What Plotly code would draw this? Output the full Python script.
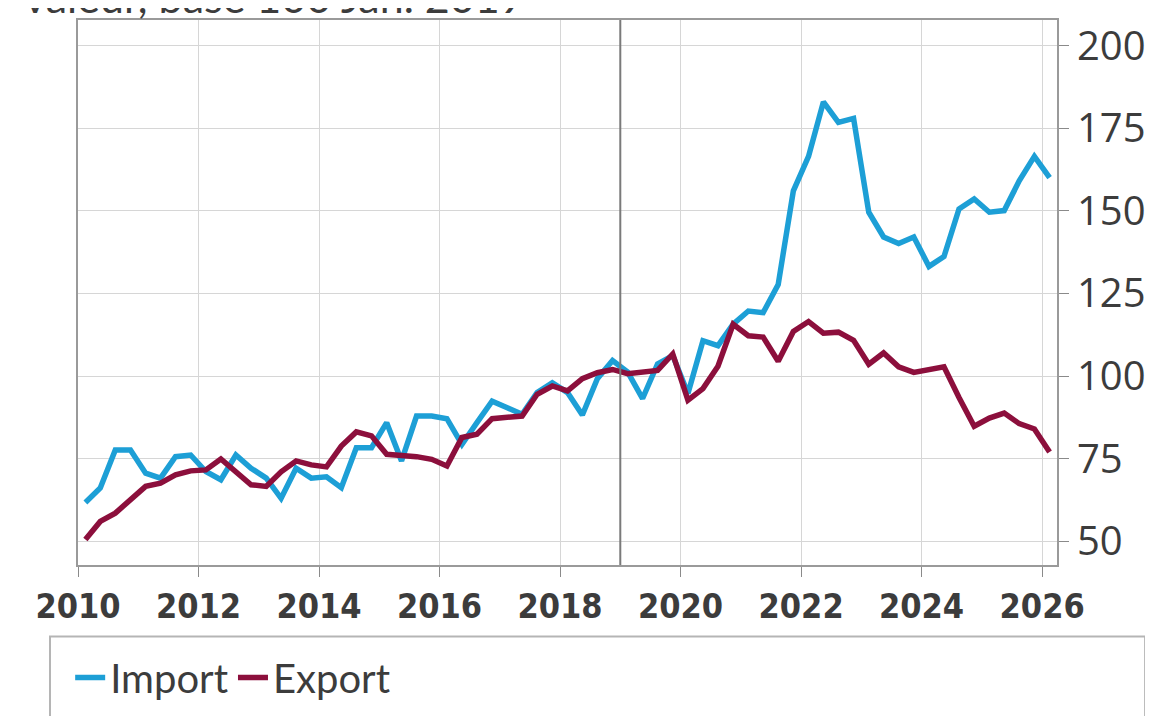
import pandas as pd
import plotly.graph_objects as go

# trimestres T1 2010 -> T1 2026 (placés au milieu du trimestre)
quarters = pd.period_range("2010Q1", "2026Q1", freq="Q")
dates = [q.start_time + pd.Timedelta(days=45) for q in quarters]

# valeur, base 100 janv. 2019
import_vals = [
    61.7, 66.1, 77.6, 77.6, 70.6, 69.1, 75.6, 76.1, 71.1, 68.6, 76.1, 72.1, 69.1,
    63.0, 72.1, 69.1, 69.5, 66.2, 78.3, 78.3, 85.9, 74.3, 87.9, 87.9, 87.1, 79.3,
    85.9, 92.4, 90.4, 88.4, 95.0, 98.0, 95.0, 88.2, 99.2, 104.7, 101.2, 93.2, 103.7,
    106.2, 94.7, 110.7, 109.2, 115.7, 119.7, 119.2, 127.7, 156.1, 166.5, 183.0,
    176.8, 178.0, 149.6, 142.1, 140.1, 142.1, 133.2, 136.2, 150.6, 153.6, 149.6,
    150.1, 159.1, 166.5, 160.1,
]
export_vals = [
    50.5, 56.0, 58.5, 62.6, 66.6, 67.6, 70.1, 71.3, 71.6, 74.9, 71.0, 67.1, 66.6,
    71.0, 74.3, 73.1, 72.5, 78.8, 83.1, 81.9, 76.3, 76.0, 75.6, 74.8, 72.8, 81.4,
    82.4, 87.1, 87.4, 87.9, 94.5, 97.0, 95.5, 99.2, 101.0, 102.0, 100.7, 101.0,
    101.7, 106.7, 92.7, 96.2, 103.0, 115.7, 112.2, 111.8, 104.5, 113.5, 116.5,
    113.0, 113.3, 110.8, 103.6, 107.0, 102.8, 101.1, 102.0, 102.8, 93.5, 84.8,
    87.3, 88.8, 85.6, 84.0, 77.0,
]

BLUE = "#1d9fd6"
RED = "#8c0f3c"
TXT = "#3c3c3c"

fig = go.Figure()
fig.add_trace(go.Scatter(x=dates, y=import_vals, name="Import", mode="lines",
                         line=dict(color=BLUE, width=5.5)))
fig.add_trace(go.Scatter(x=dates, y=export_vals, name="Export", mode="lines",
                         line=dict(color=RED, width=5.5)))

# trait vertical janv. 2019
fig.add_shape(type="line", xref="x", yref="paper", x0="2019-01-01", x1="2019-01-01",
              y0=0, y1=1, line=dict(color="#7a7a7a", width=2))
# cadre de la légende
fig.add_shape(type="rect", xref="paper", yref="paper", x0=-0.0286, x1=1.09,
              y0=-0.36, y1=-0.131, line=dict(color="#b5b5b5", width=2))

fig.add_annotation(text="valeur, base 100 Jan. 2019", xref="paper", yref="paper",
                   x=-0.057, y=0.993, xanchor="left", yanchor="bottom", showarrow=False,
                   font=dict(family="Lato", size=43, color=TXT))

fig.update_layout(
    width=1153, height=716,
    margin=dict(l=70, r=104, t=9, b=159),
    paper_bgcolor="white", plot_bgcolor="white",
    font=dict(family="Lato", color=TXT),
    showlegend=True,
    legend=dict(orientation="h", x=-0.008, xanchor="left",
                yref="container", y=0.065, yanchor="middle",
                font=dict(family="Lato", size=40, color=TXT), bgcolor="rgba(0,0,0,0)",
                itemwidth=30, tracegroupgap=0),
)
fig.update_xaxes(
    type="date", range=["2010-01-01", "2026-04-01"],
    tick0="2010-01-01", dtick="M24", tickformat="%Y",
    ticks="outside", ticklen=10, tickcolor="#8a8a8a",
    showgrid=True, gridcolor="#d6d6d6", gridwidth=1,
    showline=True, linecolor="#9a9a9a", linewidth=2, mirror=True,
    tickfont=dict(family="DejaVu Sans Condensed", size=34, color=TXT, weight="bold"),
    zeroline=False,
)
fig.update_yaxes(
    side="right", range=[42.8, 207.8], tick0=50, dtick=25,
    ticks="outside", ticklen=10, tickcolor="#8a8a8a",
    showgrid=True, gridcolor="#d6d6d6", gridwidth=1,
    showline=True, linecolor="#9a9a9a", linewidth=2, mirror=True,
    tickfont=dict(family="Open Sans", size=40, color=TXT),
    zeroline=False,
)

fig.write_html("out.html")
